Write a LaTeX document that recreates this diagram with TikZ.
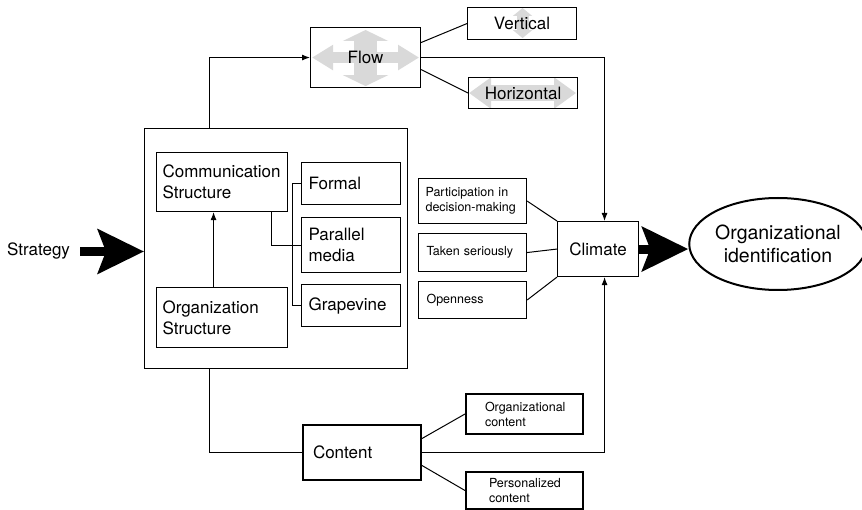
\documentclass[tikz,border=0pt]{standalone}
\usepackage{fontspec}
\setmainfont{TeX Gyre Heros}
\usetikzlibrary{arrows.meta,shapes.geometric,backgrounds}

\begin{document}
\begin{tikzpicture}[x=1pt,y=-1pt,
  >={Latex[length=8pt,width=6pt]},
  line width=1pt,
  textBox/.style={draw, line width=1.1pt, inner xsep=7pt, inner ysep=0pt,
    align=left, anchor=north west, font=\fontsize{17}{21}\selectfont},
  noteBox/.style={textBox, font=\fontsize{12.5}{15}\selectfont},
  heavyBox/.style={line width=2pt},
  midBox/.style={draw, line width=1.1pt, inner sep=0pt, align=center,
    anchor=north west, font=\fontsize{17}{21}\selectfont},
  fatArrow/.style={line width=9pt, -{Stealth[length=46pt,width=44pt,inset=8pt]}},
  grayArrow/.style={draw=flowGray}]
\definecolor{flowGray}{HTML}{D9D9D9}
\useasboundingbox (0,0) rectangle (862,510);

% flow and its two kinds
\node[midBox, minimum width=110pt, minimum height=60pt] (flow) at (310,27) {Flow};
\node[midBox, minimum width=109pt, minimum height=32pt] (vert) at (467,7) {Vertical};
\node[midBox, minimum width=109pt, minimum height=31pt] (horiz) at (468,77) {Horizontal};

% structure block
\node[draw, line width=1.1pt, minimum width=263pt, minimum height=240pt, anchor=north west] (main) at (144,128) {};
\node[textBox, inner xsep=6pt, text width=119pt, minimum height=59pt] (comm) at (156,152) {Communication\\Structure};
\node[textBox, inner xsep=6pt, text width=119pt, minimum height=60pt] (orgs) at (156,287) {Organization\\Structure};
\node[textBox, text width=85pt, minimum height=42pt] (formal) at (301,162) {Formal};
\node[textBox, text width=85pt, minimum height=55pt] (parallel) at (301,217) {Parallel\\media};
\node[textBox, text width=85pt, minimum height=42pt] (grape) at (301,284) {Grapevine};
\coordinate (mtop) at ([xshift=65pt]main.north west);
\coordinate (mbot) at ([xshift=65pt]main.south west);
\node[inner sep=0pt, font=\fontsize{17}{21}\selectfont] (strategy) at (38.5,251.5) {Strategy};

% climate
\node[noteBox, text width=94pt, minimum height=45pt] (part) at (418,178) {Participation in\\decision-making};
\node[noteBox, text width=92pt, inner xsep=8pt, minimum height=38pt] (taken) at (418,233) {Taken seriously};
\node[noteBox, text width=92pt, inner xsep=8pt, minimum height=37pt] (open) at (418,281) {Openness};
\node[midBox, minimum width=81pt, minimum height=55pt] (climate) at (557,221) {Climate};
\node[ellipse, draw, line width=2pt, minimum width=166pt, minimum height=92pt, inner sep=0pt,
  align=center, font=\fontsize{19.5}{23}\selectfont] (ident) at (778,244) {Organizational\\identification};

% content
\node[textBox, heavyBox, inner xsep=10pt, text width=98pt, minimum height=55pt] (content) at (302,424) {Content};
\node[noteBox, heavyBox, inner xsep=0pt, text width=117pt, minimum height=40pt] (orgc) at (465,393) {\hspace*{19pt}Organizational\\\hspace*{19pt}content};
\node[noteBox, heavyBox, inner xsep=0pt, text width=117pt, minimum height=37pt] (persc) at (465,471) {\hspace*{23pt}Personalized\\\hspace*{23pt}content};

\begin{scope}[on background layer]
\draw[grayArrow, line width=11pt, {Triangle[length=21pt,width=24pt]}-{Triangle[length=21pt,width=24pt]}]
  ([xshift=2pt]flow.west) -- ([xshift=-2pt]flow.east);
\draw[grayArrow, line width=23pt, {Triangle[length=11pt,width=45pt]}-{Triangle[length=11pt,width=45pt]}]
  ([yshift=-3pt]flow.north) -- ([yshift=2pt]flow.south);
\draw[grayArrow, line width=12pt, {Triangle[length=8pt,width=19pt]}-{Triangle[length=8pt,width=19pt]}]
  ([xshift=0.5pt,yshift=-1pt]vert.north) -- ([xshift=0.5pt,yshift=2pt]vert.south);
\draw[grayArrow, line width=16pt, {Triangle[length=22pt,width=30pt]}-{Triangle[length=22pt,width=30pt]}]
  ([xshift=1pt]horiz.west) -- ([xshift=-2pt]horiz.east);
\end{scope}

\draw[->] (mtop) |- (flow.west);
\draw ([yshift=15pt]flow.east) -- (vert.west);
\draw ([yshift=-12pt]flow.east) -- (horiz.west);
\draw[->] (flow.east) -| ([xshift=6.5pt]climate.north);
\draw[->] ([xshift=-8.5pt]orgs.north) -- ([xshift=-8.5pt]comm.south);
\draw ([xshift=49.5pt]comm.south) |- (parallel.west);
\draw (formal.west) -- ++(-9,0) |- (grape.west);
\draw (part.east) -- (climate.north west);
\draw (taken.east) -- (climate.west);
\draw (open.east) -- (climate.south west);
\draw[fatArrow, shorten <=10pt] (strategy.east) -- (strategy.east -| main.west);
\draw[fatArrow] (climate.east) -- (climate.east -| ident.west);
\draw (mbot) |- (content.west);
\draw[->] (content.east) -| ([xshift=6.5pt]climate.south);
\draw ([yshift=14pt]content.east) -- (orgc.west);
\draw ([yshift=-13pt]content.east) -- (persc.west);
\end{tikzpicture}
\end{document}
